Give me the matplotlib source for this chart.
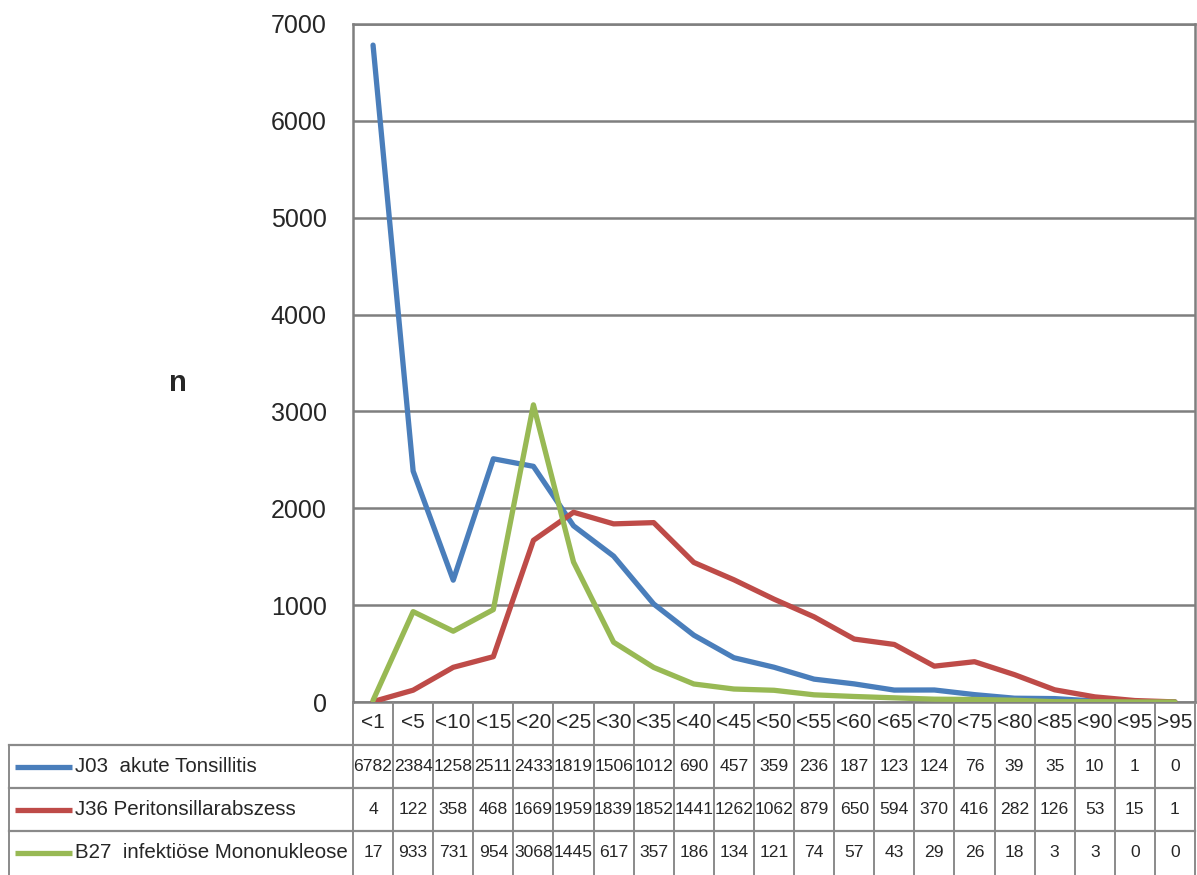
import matplotlib
matplotlib.use("Agg")
import matplotlib.pyplot as plt
from matplotlib import font_manager

# ---- data ----
categories = ['<1', '<5', '<10', '<15', '<20', '<25', '<30', '<35', '<40', '<45', '<50',
              '<55', '<60', '<65', '<70', '<75', '<80', '<85', '<90', '<95', '>95']
j03_values = [6782, 2384, 1258, 2511, 2433, 1819, 1506, 1012, 690, 457, 359,
              236, 187, 123, 124, 76, 39, 35, 10, 1, 0]
j36_values = [4, 122, 358, 468, 1669, 1959, 1839, 1852, 1441, 1262, 1062,
              879, 650, 594, 370, 416, 282, 126, 53, 15, 1]
b27_values = [17, 933, 731, 954, 3068, 1445, 617, 357, 186, 134, 121,
              74, 57, 43, 29, 26, 18, 3, 3, 0, 0]
series_labels = ['J03  akute Tonsillitis', 'J36 Peritonsillarabszess',
                 'B27  infektiöse Mononukleose']
series_values = [j03_values, j36_values, b27_values]
series_colors = ['#4A7EBB', '#BE4B48', '#98B954']
y_ticks = [0, 1000, 2000, 3000, 4000, 5000, 6000, 7000]

# ---- fonts ----
names = {f.name for f in font_manager.fontManager.ttflist}
FONT = 'Liberation Sans Narrow' if 'Liberation Sans Narrow' in names else 'Liberation Sans'
plt.rcParams['font.family'] = [FONT, 'DejaVu Sans']
TXT = '#262626'

W, H = 1197, 875
fig = plt.figure(figsize=(W / 100, H / 100), dpi=100)

# plot area in pixels
L, R, T, B = 353, 1195, 24, 702
ax = fig.add_axes([L / W, 1 - B / H, (R - L) / W, (B - T) / H])
n = len(categories)
x = list(range(n))
for vals, col, lab in zip(series_values, series_colors, series_labels):
    ax.plot(x, vals, color=col, lw=3.8, solid_joinstyle='round',
            solid_capstyle='round', label=lab, zorder=3)
ax.set_xlim(-0.5, n - 0.5)
ax.set_ylim(0, 7000)
ax.set_yticks(y_ticks)
ax.set_yticklabels([str(v) for v in y_ticks], fontsize=18, color=TXT)
ax.tick_params(axis='y', length=0, pad=19)
ax.set_xticks([])
ax.yaxis.grid(True, color='#7f7f7f', lw=1.8)
ax.set_axisbelow(True)
for s in ax.spines.values():
    s.set_color('#7f7f7f')
    s.set_linewidth(1.8)

fig.text(178 / W, 1 - 383 / H, 'n', fontsize=21, fontweight='bold',
         ha='center', va='center', color=TXT)

# ---- data table ----
tab_h = H - B
tax = fig.add_axes([0, 0, 1, tab_h / H])
colw = (R - L) / n
x0 = -0.5 - L / colw
x1 = x0 + W / colw
tax.set_xlim(x0, x1)
tax.set_ylim(0, tab_h)
tax.axis('off')

def px2x(px):
    return x0 + px / colw

gc = '#8a8a8a'
row_tops = [tab_h - 43, tab_h - 86, tab_h - 129]
row_h = 43
for i, c in enumerate(categories):
    tax.text(i, tab_h - 21, c, ha='center', va='center', fontsize=15, color=TXT)
for k in range(n + 1):
    tax.plot([k - 0.5, k - 0.5], [0, tab_h], color=gc, lw=1.4)
for yt in row_tops:
    tax.plot([px2x(9), n - 0.5], [yt, yt], color=gc, lw=1.6)
tax.plot([px2x(9), px2x(9)], [0, row_tops[0]], color=gc, lw=1.4)
for r, (vals, col, lab) in enumerate(zip(series_values, series_colors, series_labels)):
    yc = row_tops[r] - row_h / 2
    tax.plot([px2x(15), px2x(72)], [yc, yc], color=col, lw=3.8, solid_capstyle='butt')
    tax.text(px2x(75), yc, lab, ha='left', va='center', fontsize=14.8, color=TXT)
    for i, v in enumerate(vals):
        tax.text(i, yc, str(v), ha='center', va='center', fontsize=12.6, color=TXT)

fig.savefig('out.png', dpi=100)
